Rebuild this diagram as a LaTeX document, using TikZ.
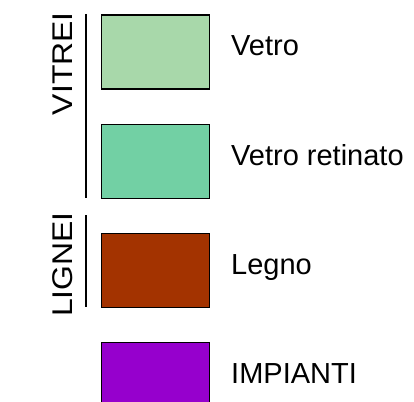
\documentclass[tikz,border=0pt]{standalone}
\usepackage{fontspec}
\setmainfont{Liberation Sans}
\definecolor{cvetro}{RGB}{168,216,170}
\definecolor{cretinato}{RGB}{114,208,164}
\definecolor{clegno}{RGB}{163,51,0}
\definecolor{cimpianti}{RGB}{150,0,205}
\tikzset{
  swatch/.style={draw=black, line width=1.5pt, minimum width=108pt, minimum height=74pt, inner sep=0pt, anchor=north west},
  lbl/.style={font=\fontsize{29pt}{30pt}\selectfont, inner sep=0pt, anchor=base west},
  grp/.style={font=\fontsize{28.5pt}{30pt}\selectfont, inner sep=0pt, rotate=90, anchor=base east, xscale=1.12},
  grpline/.style={line width=1.3pt}
}
\begin{document}
\begin{tikzpicture}[x=1pt,y=-1pt]
\useasboundingbox (0,0) rectangle (414,401);
\clip (0,0) rectangle (414,401);
\fill[white] (0,0) rectangle (414,401);
\node[swatch, fill=cvetro] (b1) at (100.5,14.5) {};
\node[swatch, fill=cretinato] (b2) at (100.5,123.5) {};
\node[swatch, fill=clegno] (b3) at (100.5,232.5) {};
\node[swatch, fill=cimpianti] (b4) at (100.5,341.5) {};
\node[lbl] (t1) at (231,56) {Vetro};
\node[lbl] (t2) at (231,165) {Vetro retinato};
\node[lbl] (t3) at (231,274) {Legno};
\node[lbl] (t4) at (231,383) {IMPIANTI};
\coordinate (v1) at (86,14);
\coordinate (v2) at (86,198);
\coordinate (l1) at (86,215);
\coordinate (l2) at (86,307);
\draw[grpline] (v1) -- (v2);
\draw[grpline] (l1) -- (l2);
\node[grp] (g1) at (72,12) {VITREI};
\node[grp] (g2) at (72,212) {LIGNEI};
\end{tikzpicture}
\end{document}
